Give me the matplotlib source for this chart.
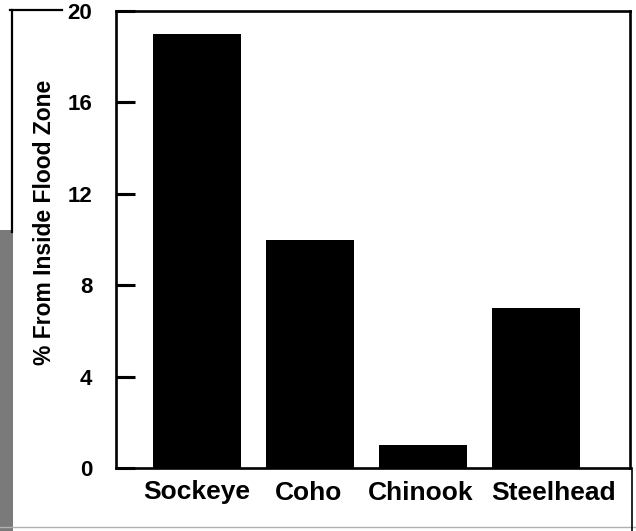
import matplotlib
matplotlib.use("Agg")
import matplotlib.pyplot as plt
from matplotlib.lines import Line2D
from matplotlib.patches import Rectangle
from matplotlib.transforms import ScaledTranslation

categories = ["Sockeye", "Coho", "Chinook", "Steelhead"]
values = [19, 10, 1, 7]
yticks = [0, 4, 8, 12, 16, 20]
ylabel = "% From Inside Flood Zone"

plt.rcParams['font.family'] = ['Liberation Sans', 'DejaVu Sans']
plt.rcParams['font.weight'] = 'bold'

W, H = 636, 531
fig = plt.figure(figsize=(W/100, H/100), dpi=100)
ax = fig.add_axes([116/W, 1-468/H, (630-116)/W, (468-11)/H])

x = list(range(len(categories)))
ax.bar(x, values, width=0.78, color='black', zorder=2)
ax.set_xlim(-0.717, 3.83)
ax.set_ylim(0, 20)
ax.set_yticks(yticks)
ax.set_yticklabels([str(t) for t in yticks], fontsize=16, fontweight='bold')
ax.set_xticks(x)
ax.set_xticklabels(categories, fontsize=19, fontweight='bold')
ax.tick_params(axis='x', length=0, pad=9)
ax.tick_params(axis='y', direction='in', length=14, width=2.2, pad=17)
for s in ax.spines.values():
    s.set_linewidth(1.9)
ax.set_ylabel(ylabel, fontsize=16.5, fontweight='bold')
ax.yaxis.set_label_coords(-(116-56)/(630-116), (468-222)/(468-11))

# inward tick marks on the left spine (drawn explicitly as well)
for t in yticks[1:-1]:
    ax.axhline(t, xmin=0, xmax=14/(630-116), color='black', lw=2.2,
               solid_capstyle='butt', zorder=4)

# small horizontal offsets of category labels as in the original layout
offsets_px = [0, -2, -2, 17]
for lab, dx in zip(ax.get_xticklabels(), offsets_px):
    lab.set_transform(lab.get_transform() + ScaledTranslation(dx/100, 0, fig.dpi_scale_trans))

# scan artifacts at the left/bottom edges
fig.add_artist(Line2D([10/W, 62/W], [1-10/H, 1-10/H], color='black', lw=1.6))
fig.add_artist(Line2D([12/W, 12/W], [1-10/H, 1-232/H], color='black', lw=1.6))
fig.add_artist(Rectangle((0, 0), 13/W, 1-230/H, color='#7a7a7a', lw=0))
fig.add_artist(Line2D([0, 1], [1-527/H, 1-527/H], color='#b0b0b0', lw=1))
fig.add_artist(Line2D([632/W, 632/W], [1-468/H, 0], color='black', lw=1.2))

fig.savefig("out.png", dpi=100)
